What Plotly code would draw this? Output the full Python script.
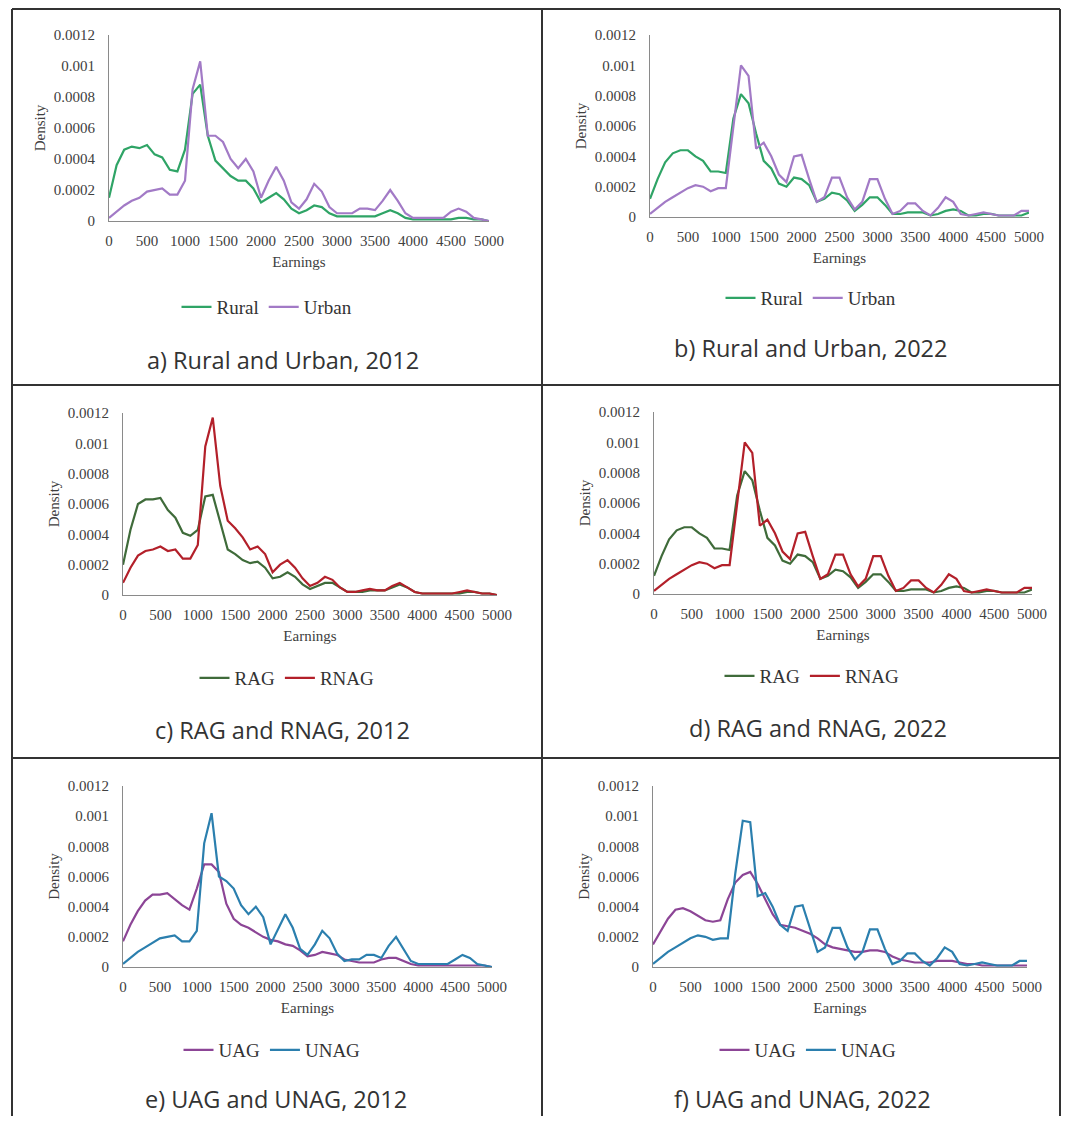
import plotly.graph_objects as go

# The page keeps the browser's default 8px body margin, so the figure is sized
# to fill the 1069x1124 window exactly with that margin around it.
PAGE_W, PAGE_H, OFF = 1069, 1124, 8
W, H = PAGE_W - 2 * OFF, PAGE_H - 2 * OFF


def px(x):
    return (x - OFF) / W


def py(y):
    return 1 - (y - OFF) / H


# ---------------- data ----------------
earnings = [0, 100, 200, 300, 400, 500, 600, 700, 800, 900,
            1000, 1100, 1200, 1300, 1400, 1500, 1600, 1700, 1800, 1900,
            2000, 2100, 2200, 2300, 2400, 2500, 2600, 2700, 2800, 2900,
            3000, 3100, 3200, 3300, 3400, 3500, 3600, 3700, 3800, 3900,
            4000, 4100, 4200, 4300, 4400, 4500, 4600, 4700, 4800, 4900, 5000]

x_ticks = [0, 500, 1000, 1500, 2000, 2500, 3000, 3500, 4000, 4500, 5000]
y_ticks = [0, 0.0002, 0.0004, 0.0006, 0.0008, 0.001, 0.0012]
y_tick_labels = ["0", "0.0002", "0.0004", "0.0006", "0.0008", "0.001", "0.0012"]

rural_2012 = [0.00015, 0.00036, 0.00046, 0.00048, 0.00047, 0.00049, 0.00043, 0.00041, 0.00033, 0.00032,
              0.00046, 0.00082, 0.00088, 0.00055, 0.00039, 0.00034, 0.00029, 0.00026, 0.00026, 0.00021,
              0.00012, 0.00015, 0.00018, 0.00014, 0.00008, 0.00005, 0.00007, 0.00010, 0.00009, 0.00005,
              0.00003, 0.00003, 0.00003, 0.00003, 0.00003, 0.00003, 0.00005, 0.00007, 0.00005, 0.00002,
              0.00001, 0.00001, 0.00001, 0.00001, 0.00001, 0.00001, 0.00002, 0.00002, 0.00001, 0.00001, 0.0]
urban_2012 = [0.00002, 0.00006, 0.00010, 0.00013, 0.00015, 0.00019, 0.00020, 0.00021, 0.00017, 0.00017,
              0.00026, 0.00085, 0.00103, 0.00055, 0.00055, 0.00051, 0.00040, 0.00034, 0.00040, 0.00032,
              0.00015, 0.00026, 0.00035, 0.00026, 0.00012, 0.00008, 0.00014, 0.00024, 0.00019, 0.00009,
              0.00005, 0.00005, 0.00005, 0.00008, 0.00008, 0.00007, 0.00013, 0.00020, 0.00013, 0.00005,
              0.00002, 0.00002, 0.00002, 0.00002, 0.00002, 0.00006, 0.00008, 0.00006, 0.00002, 0.00001, 0.0]

rural_2022 = [0.00012, 0.00025, 0.00036, 0.00042, 0.00044, 0.00044, 0.00040, 0.00037, 0.00030, 0.00030,
              0.00029, 0.00065, 0.00081, 0.00075, 0.00055, 0.00037, 0.00032, 0.00022, 0.00020, 0.00026,
              0.00025, 0.00021, 0.00010, 0.00012, 0.00016, 0.00015, 0.00011, 0.00004, 0.00008, 0.00013,
              0.00013, 0.00008, 0.00002, 0.00002, 0.00003, 0.00003, 0.00003, 0.00001, 0.00002, 0.00004,
              0.00005, 0.00004, 0.00001, 0.00001, 0.00002, 0.00002, 0.00001, 0.00001, 0.00001, 0.00001, 0.00003]
urban_2022 = [0.00002, 0.00006, 0.00010, 0.00013, 0.00016, 0.00019, 0.00021, 0.00020, 0.00017, 0.00019,
              0.00019, 0.00060, 0.00100, 0.00093, 0.00045, 0.00049, 0.00040, 0.00028, 0.00023, 0.00040,
              0.00041, 0.00025, 0.00010, 0.00013, 0.00026, 0.00026, 0.00013, 0.00005, 0.00010, 0.00025,
              0.00025, 0.00012, 0.00002, 0.00004, 0.00009, 0.00009, 0.00004, 0.00001, 0.00006, 0.00013,
              0.00010, 0.00002, 0.00001, 0.00002, 0.00003, 0.00002, 0.00001, 0.00001, 0.00001, 0.00004, 0.00004]

rag_2012 = [0.00020, 0.00043, 0.00060, 0.00063, 0.00063, 0.00064, 0.00056, 0.00051, 0.00041, 0.00039,
            0.00043, 0.00065, 0.00066, 0.00048, 0.00030, 0.00027, 0.00023, 0.00021, 0.00022, 0.00018,
            0.00011, 0.00012, 0.00015, 0.00012, 0.00007, 0.00004, 0.00006, 0.00008, 0.00008, 0.00005,
            0.00002, 0.00002, 0.00002, 0.00003, 0.00003, 0.00003, 0.00005, 0.00007, 0.00005, 0.00002,
            0.00001, 0.00001, 0.00001, 0.00001, 0.00001, 0.00001, 0.00002, 0.00002, 0.00001, 0.00001, 0.0]
rnag_2012 = [0.00008, 0.00018, 0.00026, 0.00029, 0.00030, 0.00032, 0.00029, 0.00030, 0.00024, 0.00024,
             0.00033, 0.00098, 0.00117, 0.00072, 0.00049, 0.00044, 0.00038, 0.00030, 0.00032, 0.00027,
             0.00015, 0.00020, 0.00023, 0.00018, 0.00011, 0.00006, 0.00008, 0.00012, 0.00010, 0.00005,
             0.00002, 0.00002, 0.00003, 0.00004, 0.00003, 0.00003, 0.00006, 0.00008, 0.00005, 0.00002,
             0.00001, 0.00001, 0.00001, 0.00001, 0.00001, 0.00002, 0.00003, 0.00002, 0.00001, 0.00001, 0.0]

rag_2022 = [0.00012, 0.00025, 0.00036, 0.00042, 0.00044, 0.00044, 0.00040, 0.00037, 0.00030, 0.00030,
            0.00029, 0.00065, 0.00081, 0.00075, 0.00055, 0.00037, 0.00032, 0.00022, 0.00020, 0.00026,
            0.00025, 0.00021, 0.00010, 0.00012, 0.00016, 0.00015, 0.00011, 0.00004, 0.00008, 0.00013,
            0.00013, 0.00008, 0.00002, 0.00002, 0.00003, 0.00003, 0.00003, 0.00001, 0.00002, 0.00004,
            0.00005, 0.00004, 0.00001, 0.00001, 0.00002, 0.00002, 0.00001, 0.00001, 0.00001, 0.00001, 0.00003]
rnag_2022 = [0.00002, 0.00006, 0.00010, 0.00013, 0.00016, 0.00019, 0.00021, 0.00020, 0.00017, 0.00019,
             0.00019, 0.00060, 0.00100, 0.00093, 0.00045, 0.00049, 0.00040, 0.00028, 0.00023, 0.00040,
             0.00041, 0.00025, 0.00010, 0.00013, 0.00026, 0.00026, 0.00013, 0.00005, 0.00010, 0.00025,
             0.00025, 0.00012, 0.00002, 0.00004, 0.00009, 0.00009, 0.00004, 0.00001, 0.00006, 0.00013,
             0.00010, 0.00002, 0.00001, 0.00002, 0.00003, 0.00002, 0.00001, 0.00001, 0.00001, 0.00004, 0.00004]

uag_2012 = [0.00017, 0.00028, 0.00037, 0.00044, 0.00048, 0.00048, 0.00049, 0.00045, 0.00041, 0.00038,
            0.00052, 0.00068, 0.00068, 0.00063, 0.00042, 0.00032, 0.00028, 0.00026, 0.00023, 0.00020,
            0.00018, 0.00017, 0.00015, 0.00014, 0.00011, 0.00007, 0.00008, 0.00010, 0.00009, 0.00008,
            0.00005, 0.00004, 0.00003, 0.00003, 0.00003, 0.00005, 0.00006, 0.00006, 0.00004, 0.00002,
            0.00001, 0.00001, 0.00001, 0.00001, 0.00001, 0.00001, 0.00001, 0.00001, 0.00001, 0.00001, 0.0]
unag_2012 = [0.00002, 0.00006, 0.00010, 0.00013, 0.00016, 0.00019, 0.00020, 0.00021, 0.00017, 0.00017,
             0.00024, 0.00082, 0.00102, 0.00060, 0.00057, 0.00052, 0.00041, 0.00035, 0.00040, 0.00033,
             0.00015, 0.00025, 0.00035, 0.00026, 0.00012, 0.00008, 0.00015, 0.00024, 0.00019, 0.00009,
             0.00004, 0.00005, 0.00005, 0.00008, 0.00008, 0.00006, 0.00014, 0.00020, 0.00012, 0.00004,
             0.00002, 0.00002, 0.00002, 0.00002, 0.00002, 0.00005, 0.00008, 0.00006, 0.00002, 0.00001, 0.0]

uag_2022 = [0.00015, 0.00024, 0.00032, 0.00038, 0.00039, 0.00037, 0.00034, 0.00031, 0.00030, 0.00031,
            0.00045, 0.00056, 0.00061, 0.00063, 0.00055, 0.00045, 0.00035, 0.00028, 0.00027, 0.00026,
            0.00024, 0.00022, 0.00019, 0.00015, 0.00013, 0.00012, 0.00011, 0.00010, 0.00010, 0.00011,
            0.00011, 0.00010, 0.00007, 0.00005, 0.00004, 0.00003, 0.00003, 0.00003, 0.00004, 0.00004,
            0.00004, 0.00003, 0.00002, 0.00002, 0.00001, 0.00001, 0.00001, 0.00001, 0.00001, 0.00001, 0.00001]
unag_2022 = [0.00002, 0.00006, 0.00010, 0.00013, 0.00016, 0.00019, 0.00021, 0.00020, 0.00018, 0.00019,
             0.00019, 0.00062, 0.00097, 0.00096, 0.00047, 0.00049, 0.00040, 0.00028, 0.00024, 0.00040,
             0.00041, 0.00025, 0.00010, 0.00013, 0.00026, 0.00026, 0.00013, 0.00005, 0.00010, 0.00025,
             0.00025, 0.00012, 0.00002, 0.00004, 0.00009, 0.00009, 0.00004, 0.00001, 0.00006, 0.00013,
             0.00010, 0.00002, 0.00001, 0.00002, 0.00003, 0.00002, 0.00001, 0.00001, 0.00001, 0.00004, 0.00004]

captions = ["a) Rural and Urban, 2012", "b) Rural and Urban, 2022",
            "c) RAG and RNAG, 2012", "d) RAG and RNAG, 2022",
            "e) UAG and UNAG, 2012", "f) UAG and UNAG, 2022"]

# ---------------- styles / layout ----------------
C_RURAL, C_URBAN = "#2fa466", "#a27ac6"
C_RAG, C_RNAG = "#3f6b3a", "#b3202a"
C_UAG, C_UNAG = "#8c4596", "#2b7fae"

# page-pixel positions: plot box (left, right, top, bottom), legend centre, caption centre
panels = [
    dict(series=[("Rural", rural_2012, C_RURAL), ("Urban", urban_2012, C_URBAN)],
         box=(109, 489, 35, 221), leg=(267, 307), cap=(283, 360)),
    dict(series=[("Rural", rural_2022, C_RURAL), ("Urban", urban_2022, C_URBAN)],
         box=(650, 1029, 35, 217), leg=(811, 298), cap=(811, 348)),
    dict(series=[("RAG", rag_2012, C_RAG), ("RNAG", rnag_2012, C_RNAG)],
         box=(123, 497, 413, 595), leg=(287, 678), cap=(283, 730)),
    dict(series=[("RAG", rag_2022, C_RAG), ("RNAG", rnag_2022, C_RNAG)],
         box=(654, 1032, 412, 594), leg=(812, 676), cap=(818, 728)),
    dict(series=[("UAG", uag_2012, C_UAG), ("UNAG", unag_2012, C_UNAG)],
         box=(123, 492, 786, 967), leg=(272, 1050), cap=(276, 1099)),
    dict(series=[("UAG", uag_2022, C_UAG), ("UNAG", unag_2022, C_UNAG)],
         box=(653, 1027, 786, 967), leg=(808, 1050), cap=(803, 1099)),
]

SERIF = "Liberation Serif, Times New Roman, serif"
TXT = "#404040"

fig = go.Figure()
layout = dict(width=W, height=H, autosize=False, margin=dict(l=0, r=0, t=0, b=0, pad=0),
              paper_bgcolor="white", plot_bgcolor="white", showlegend=True,
              annotations=[], shapes=[])

for i, p in enumerate(panels, start=1):
    xa = "x" if i == 1 else f"x{i}"
    ya = "y" if i == 1 else f"y{i}"
    lg = "legend" if i == 1 else f"legend{i}"
    for name, vals, col in p["series"]:
        fig.add_trace(go.Scatter(x=earnings, y=vals, mode="lines", name=name,
                                 line=dict(color=col, width=2.2), xaxis=xa, yaxis=ya,
                                 legend=lg, cliponaxis=False, hoverinfo="skip"))
    x0, x1, yt, yb = p["box"]
    layout["xaxis" if i == 1 else f"xaxis{i}"] = dict(
        domain=[px(x0), px(x1)], anchor=ya, range=[0, 5000], automargin=False,
        tickvals=x_ticks, showgrid=False, zeroline=False,
        showline=True, linecolor="#8a8a8a", linewidth=1.2, ticks="",
        ticklabelstandoff=6,
        tickfont=dict(family=SERIF, size=15, color=TXT),
        title=dict(text="Earnings", font=dict(family=SERIF, size=15, color=TXT), standoff=8))
    layout["yaxis" if i == 1 else f"yaxis{i}"] = dict(
        domain=[py(yb), py(yt)], anchor=xa, range=[0, 0.0012], automargin=False,
        tickvals=y_ticks, ticktext=y_tick_labels, showgrid=False, zeroline=False,
        showline=True, linecolor="#8a8a8a", linewidth=1.2, ticks="",
        ticklabelstandoff=10,
        tickfont=dict(family=SERIF, size=15, color=TXT),
        title=dict(text="Density", font=dict(family=SERIF, size=15, color=TXT), standoff=4))
    lx, ly = p["leg"]
    layout[lg] = dict(orientation="h", x=px(lx), y=py(ly), xanchor="center", yanchor="middle",
                      font=dict(family=SERIF, size=19, color="#333333"),
                      bgcolor="rgba(0,0,0,0)", itemwidth=30, traceorder="normal")
    cx, cy = p["cap"]
    layout["annotations"].append(dict(text=captions[i - 1], x=px(cx), y=py(cy),
                                      xref="paper", yref="paper", showarrow=False,
                                      xanchor="center", yanchor="middle",
                                      font=dict(family="Open Sans", size=23.5, color="#333333")))

# table borders (page pixels; the outer right edge is kept just inside the figure)
BL = dict(color="#333333", width=2)
TOP = 9
for xv in [12, 542, 1060]:
    layout["shapes"].append(dict(type="line", xref="paper", yref="paper",
                                 x0=px(xv), x1=px(xv), y0=-0.01, y1=py(TOP), line=BL))
for yv in [TOP, 385, 758]:
    layout["shapes"].append(dict(type="line", xref="paper", yref="paper",
                                 x0=px(12), x1=px(1060), y0=py(yv), y1=py(yv), line=BL))

fig.update_layout(**layout)
fig.write_html("out.html", config={"displayModeBar": False, "responsive": False})
